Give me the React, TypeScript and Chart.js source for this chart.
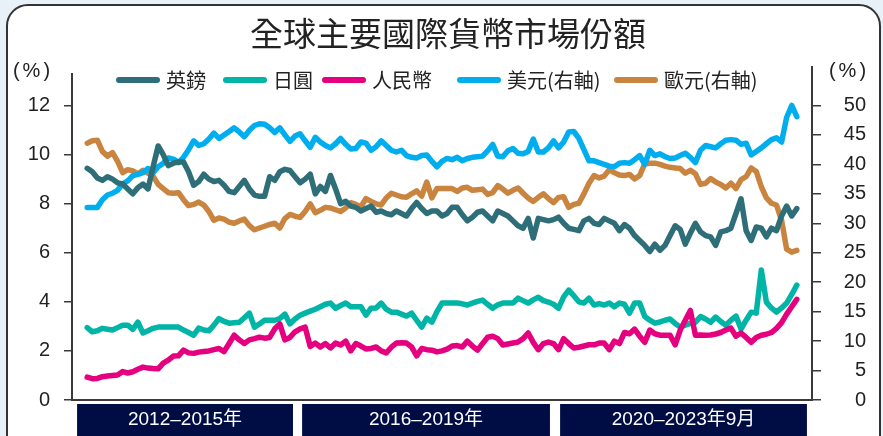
import React, { useEffect, useRef } from 'react';
import { Chart, registerables } from 'chart.js';

Chart.register(...registerables);

const TITLE = '全球主要國際貨幣市場份額';
const SERIES_NAMES = ['英鎊', '日圓', '人民幣', '美元(右軸)', '歐元(右軸)'];
const SERIES_COLORS = ['#2e6e78', '#00b4a6', '#e5007f', '#00aeef', '#c98540'];
const LEFT_TICKS = [0, 2, 4, 6, 8, 10, 12];
const RIGHT_TICKS = [0, 5, 10, 15, 20, 25, 30, 35, 40, 45, 50];
const PERIODS = ['2012–2015年', '2016–2019年', '2020–2023年9月'];
// period bands as month-index ranges along the x axis
const PERIOD_SPANS = [[-2, 40.6], [42.4, 91.3], [93.3, 142]];

// 英鎊 (left axis, %)
const GBP = [9.44, 9.3, 9.05, 8.95, 9.1, 9.0, 8.85, 8.8, 8.6, 8.4,
  8.65, 8.8, 8.6, 9.5, 10.35, 10.0, 9.55, 9.65, 9.7, 9.7,
  9.3, 8.75, 8.9, 9.2, 9.0, 8.9, 8.95, 8.75, 8.5, 8.45,
  8.7, 8.95, 8.6, 8.35, 8.3, 8.3, 9.1, 8.95, 9.3, 9.4,
  9.35, 9.1, 8.85, 9.0, 9.2, 8.4, 8.7, 8.5, 9.15, 8.6,
  8.0, 8.1, 7.9, 7.85, 7.7, 7.8, 7.9, 7.65, 7.7, 7.6,
  7.55, 7.7, 7.6, 7.5, 7.8, 8.05, 7.8, 7.6, 7.7, 7.7,
  7.5, 7.6, 7.85, 7.85, 7.55, 7.3, 7.45, 7.65, 7.7, 7.5,
  7.3, 7.7, 7.6, 7.5, 7.3, 7.1, 7.0, 7.4, 6.6, 7.4,
  7.35, 7.3, 7.35, 7.45, 7.2, 7.0, 6.95, 6.9, 7.3, 7.4,
  7.2, 7.15, 7.4, 7.3, 7.2, 6.9, 7.15, 7.0, 6.7, 6.5,
  6.3, 6.05, 6.35, 6.1, 6.3, 6.7, 7.1, 6.95, 6.35, 6.8,
  7.2, 6.85, 6.7, 6.65, 6.3, 6.85, 6.9, 7.0, 7.6, 8.2,
  6.9, 6.5, 7.05, 7.0, 6.65, 7.0, 6.9, 7.5, 7.9, 7.5,
  7.8];

// 日圓 (left axis, %)
const JPY = [2.95, 2.78, 2.82, 2.92, 2.88, 2.85, 2.95, 3.05, 3.05, 2.88,
  3.17, 2.73, 2.82, 2.92, 2.97, 2.97, 2.97, 2.97, 2.97, 2.85,
  2.75, 2.64, 2.93, 2.85, 2.82, 3.05, 3.32, 3.2, 3.13, 3.15,
  3.17, 3.35, 3.54, 2.97, 3.1, 3.25, 3.25, 3.25, 3.32, 3.5,
  3.1, 3.3, 3.45, 3.54, 3.62, 3.7, 3.8, 3.9, 3.95, 3.74,
  3.85, 3.95, 3.8, 3.8, 3.8, 3.46, 3.74, 3.75, 3.95, 3.7,
  3.58, 3.58, 3.5, 3.42, 3.54, 3.25, 2.97, 3.34, 3.17, 3.6,
  3.95, 3.95, 3.95, 3.95, 3.92, 3.87, 3.95, 4.02, 4.07, 3.9,
  3.74, 3.88, 3.95, 3.95, 3.95, 4.15, 4.05, 3.95, 4.08, 4.19,
  4.05, 3.99, 3.9, 3.74, 4.2, 4.48, 4.25, 4.0, 3.95, 4.15,
  3.87, 3.93, 3.87, 3.95, 3.8, 3.95, 3.9, 3.54, 3.95, 3.95,
  3.4, 3.25, 3.13, 3.18, 3.25, 3.3, 3.12, 2.97, 3.05, 3.12,
  3.17, 3.4, 3.3, 3.17, 3.38, 3.2, 3.05, 3.25, 3.42, 2.89,
  3.25, 3.58, 3.54, 5.3, 3.99, 3.75, 3.58, 3.75, 3.95, 4.3,
  4.68];

// 人民幣 (left axis, %)
const CNY = [0.93, 0.87, 0.88, 0.95, 0.98, 1.0, 1.02, 1.16, 1.1, 1.15,
  1.25, 1.34, 1.3, 1.28, 1.27, 1.5, 1.62, 1.79, 1.8, 2.03,
  1.92, 1.9, 1.95, 1.98, 2.0, 2.05, 2.1, 1.97, 2.3, 2.64,
  2.45, 2.3, 2.45, 2.5, 2.56, 2.52, 2.55, 2.9, 3.1, 2.45,
  2.55, 2.78, 2.9, 2.97, 2.18, 2.32, 2.16, 2.3, 2.12, 2.32,
  2.24, 2.4, 2.0, 2.3, 2.2, 2.08, 2.1, 2.16, 2.0, 1.92,
  2.15, 2.32, 2.33, 2.32, 2.16, 1.8, 2.1, 2.05, 2.03, 1.96,
  2.0, 2.07, 2.2, 2.22, 2.16, 2.4, 2.2, 2.03, 2.3, 2.56,
  2.6, 2.5, 2.24, 2.28, 2.32, 2.36, 2.5, 2.73, 2.35, 2.05,
  2.3, 2.36, 2.3, 2.05, 2.5, 2.3, 2.12, 2.15, 2.2, 2.25,
  2.25, 2.32, 2.32, 2.05, 2.4, 2.3, 2.75, 2.7, 2.89, 2.6,
  2.35, 2.85, 2.7, 2.64, 2.64, 2.64, 2.25, 2.85, 3.25, 3.65,
  2.64, 2.65, 2.64, 2.65, 2.69, 2.75, 2.85, 2.93, 2.6, 2.73,
  2.55, 2.35, 2.55, 2.64, 2.68, 2.75, 2.92, 3.15, 3.5, 3.8,
  4.1];

// 美元 (right axis, %)
const USD = [32.7, 32.7, 32.7, 34.0, 34.8, 35.1, 35.6, 36.7, 37.2, 38.1,
  38.3, 38.6, 39.3, 38.6, 39.6, 40.2, 41.1, 40.9, 40.3, 41.2,
  42.5, 44.0, 43.2, 43.5, 44.3, 45.3, 44.4, 45.0, 45.6, 46.2,
  45.5, 44.7, 45.8, 46.6, 46.9, 46.8, 46.2, 45.4, 46.2, 45.0,
  43.9, 44.8, 45.2, 44.0, 42.9, 44.6, 43.8, 43.2, 42.8, 43.5,
  44.4, 43.4, 42.6, 42.7, 43.8, 43.6, 42.4, 43.0, 44.0, 43.2,
  42.4, 42.1, 42.4, 41.5, 41.2, 41.1, 41.5, 41.6, 40.5, 39.6,
  40.5, 41.0, 40.8, 41.2, 40.6, 41.0, 41.2, 41.3, 41.4, 42.3,
  43.4, 41.4, 41.3, 42.3, 42.7, 41.9, 41.8, 42.2, 44.3, 42.1,
  42.1, 42.8, 44.0, 42.8, 43.8, 45.5, 45.6, 44.4, 42.5, 40.6,
  40.6, 40.3, 40.0, 39.7, 39.6, 40.2, 40.3, 40.2, 40.8, 41.5,
  40.0, 42.4, 41.5, 41.8, 41.3, 41.0, 41.1, 41.5, 41.9, 41.2,
  40.3, 42.4, 43.2, 43.0, 42.8, 43.5, 44.1, 44.2, 44.1, 43.4,
  43.6, 41.6, 42.2, 42.8, 43.5, 44.2, 44.5, 43.8, 48.0, 50.0,
  48.1];

// 歐元 (right axis, %)
const EUR = [43.6, 44.0, 44.1, 42.2, 41.4, 42.0, 40.5, 38.6, 39.1, 38.9,
  38.4, 39.0, 38.5, 38.0, 36.6, 35.9, 35.2, 35.1, 35.2, 34.0,
  33.0, 33.2, 33.6, 33.1, 32.0, 30.5, 30.9, 30.7, 30.2, 30.0,
  30.4, 30.7, 29.6, 28.9, 29.2, 29.5, 29.8, 30.0, 29.2, 30.8,
  31.5, 31.2, 31.0, 32.0, 33.3, 31.8, 32.2, 32.7, 32.6, 32.3,
  32.0, 32.6, 33.5, 33.2, 32.8, 34.2, 33.7, 33.3, 33.1, 34.3,
  35.1, 34.8, 34.5, 34.4, 35.0, 35.5, 34.6, 37.0, 34.3, 35.9,
  35.9, 35.9, 35.9, 35.4, 36.0, 36.1, 35.6, 35.7, 35.8, 34.9,
  35.2, 36.4, 35.8, 35.1, 35.6, 36.0, 35.1, 34.3, 33.7, 34.4,
  35.0, 34.2, 33.5, 34.4, 34.5, 32.7, 33.2, 33.4, 35.0, 36.8,
  38.1, 37.7, 38.0, 39.1, 38.6, 38.2, 38.1, 38.3, 37.5, 38.1,
  40.1, 40.2, 40.2, 40.0, 39.7, 39.5, 39.4, 39.3, 38.5, 39.0,
  38.4, 36.6, 36.8, 37.6, 37.0, 36.6, 36.0, 36.8, 35.9, 37.4,
  37.9, 39.4, 38.8, 36.2, 34.3, 33.4, 33.1, 30.5, 25.6, 25.1,
  25.4];

const FONT_NUM = '"Liberation Sans", Arial, sans-serif';
const FONT_CJK = '"Noto Sans CJK TC", "Noto Sans CJK SC", sans-serif';

const decorPlugin = {
  id: 'decor',
  afterDraw(chart: any) {
    const ctx = chart.ctx as CanvasRenderingContext2D;
    const ca = chart.chartArea;
    const xs = chart.scales.x;
    ctx.save();

    // axis lines
    ctx.strokeStyle = '#3a3a3a';
    ctx.lineWidth = 2;
    ctx.beginPath();
    ctx.moveTo(ca.left, ca.top + 7);
    ctx.lineTo(ca.left, ca.bottom);
    ctx.lineTo(ca.right, ca.bottom);
    ctx.lineTo(ca.right, ca.top);
    ctx.stroke();

    // period bands
    PERIOD_SPANS.forEach(([a, b], k) => {
      const x0 = xs.getPixelForValue(a);
      const x1 = xs.getPixelForValue(b);
      const top = ca.bottom + 4;
      ctx.fillStyle = '#000d45';
      ctx.fillRect(x0, top, x1 - x0, chart.height - top);
      ctx.fillStyle = '#ffffff';
      ctx.font = `19px ${FONT_NUM}, ${FONT_CJK}`;
      ctx.textAlign = 'center';
      ctx.textBaseline = 'middle';
      ctx.fillText(PERIODS[k], (x0 + x1) / 2, top + 16);
    });

    // title
    ctx.fillStyle = '#222222';
    ctx.font = `33px ${FONT_CJK}`;
    ctx.textAlign = 'center';
    ctx.textBaseline = 'middle';
    ctx.fillText(TITLE, 448, 33);

    // unit labels
    ctx.font = `20px ${FONT_NUM}`;
    (ctx as any).letterSpacing = '3px';
    ctx.fillText('(%)', 33, 71);
    ctx.fillText('(%)', 849, 71);
    (ctx as any).letterSpacing = '0px';

    // legend
    const legendX = [116, 223, 322, 457, 614];
    const ly = 80;
    SERIES_NAMES.forEach((name, i) => {
      const lx = legendX[i];
      ctx.strokeStyle = SERIES_COLORS[i];
      ctx.lineWidth = 6;
      ctx.lineCap = 'round';
      ctx.beginPath();
      ctx.moveTo(lx + 3, ly);
      ctx.lineTo(lx + 41, ly);
      ctx.stroke();
      ctx.fillStyle = '#222222';
      ctx.font = `20px ${FONT_CJK}`;
      ctx.textAlign = 'left';
      ctx.textBaseline = 'middle';
      ctx.fillText(name, lx + 50, ly);
    });

    ctx.restore();
  },
};

function makeSet(label: string, values: number[], color: string, axis: string, order: number) {
  return {
    label,
    data: values.map((y, i) => ({ x: i, y })),
    borderColor: color,
    backgroundColor: color,
    borderWidth: 5.5,
    borderCapStyle: 'round' as const,
    borderJoinStyle: 'round' as const,
    pointRadius: 0,
    tension: 0,
    yAxisID: axis,
    order,
  };
}

export default function App() {
  const ref = useRef<HTMLCanvasElement>(null);

  useEffect(() => {
    document.body.style.margin = '0';
    const canvas = ref.current;
    if (!canvas) return;
    const tickFont = { family: FONT_NUM, size: 20 };
    const chart = new Chart(canvas, {
      type: 'line',
      data: {
        datasets: [
          makeSet(SERIES_NAMES[0], GBP, SERIES_COLORS[0], 'y', 1),
          makeSet(SERIES_NAMES[1], JPY, SERIES_COLORS[1], 'y', 2),
          makeSet(SERIES_NAMES[2], CNY, SERIES_COLORS[2], 'y', 0),
          makeSet(SERIES_NAMES[3], USD, SERIES_COLORS[3], 'y1', 3),
          makeSet(SERIES_NAMES[4], EUR, SERIES_COLORS[4], 'y1', 4),
        ] as any,
      },
      options: {
        responsive: false,
        animation: false,
        devicePixelRatio: 1,
        layout: { padding: { top: 66, bottom: 36, left: 0, right: 17 } },
        plugins: { legend: { display: false }, title: { display: false }, tooltip: { enabled: false } },
        scales: {
          x: { type: 'linear', min: -3, max: 143, display: false },
          y: {
            position: 'left',
            min: 0,
            max: 13.61,
            afterFit: (s: any) => { s.width = 72; },
            afterBuildTicks: (s: any) => { s.ticks = LEFT_TICKS.map((v) => ({ value: v })); },
            border: { display: false },
            grid: { drawOnChartArea: false, drawTicks: true, tickLength: 8, color: '#3a3a3a', lineWidth: 1.5 },
            ticks: { padding: 14, font: tickFont, color: '#222222', autoSkip: false },
          },
          y1: {
            position: 'right',
            min: 0,
            max: 56.7,
            afterFit: (s: any) => { s.width = 54; },
            afterBuildTicks: (s: any) => { s.ticks = RIGHT_TICKS.map((v) => ({ value: v })); },
            border: { display: false },
            grid: { drawOnChartArea: false, drawTicks: true, tickLength: 9, color: '#3a3a3a', lineWidth: 1.5 },
            ticks: { padding: 10, crossAlign: 'far', font: tickFont, color: '#222222', autoSkip: false },
          },
        },
      } as any,
      plugins: [decorPlugin],
    });
    return () => chart.destroy();
  }, []);

  return (
    <div style={{ position: 'fixed', left: 0, top: 0, width: 883, height: 436, background: '#e8f0f8', overflow: 'hidden' }}>
      <div style={{ position: 'absolute', left: 6, top: 4, width: 871, height: 500, border: '2px solid #333', borderRadius: 22, background: '#ffffff' }} />
      <canvas ref={ref} width={883} height={436} style={{ position: 'absolute', left: 0, top: 0 }} />
    </div>
  );
}
